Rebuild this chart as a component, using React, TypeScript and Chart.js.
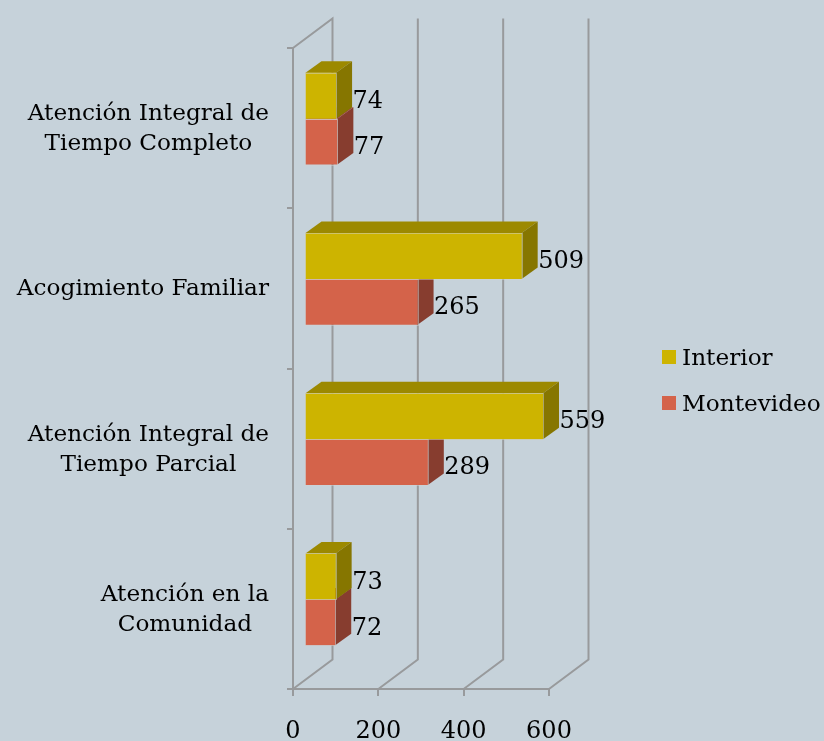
import React, { useEffect, useRef } from "react";
import { Chart, registerables } from "chart.js";

Chart.register(...registerables);

const categories = [
  ["Atención Integral de", "Tiempo Completo"],
  ["Acogimiento Familiar"],
  ["Atención Integral de", "Tiempo Parcial"],
  ["Atención en la", "Comunidad"],
];
const interior = [74, 509, 559, 73];
const montevideo = [77, 265, 289, 72];
const seriesNames = ["Interior", "Montevideo"];
const xTicks = [0, 200, 400, 600];

const BG = "#c6d2da";
const GRID = "#989a9c";
const FONT = "'DejaVu Serif'";
const FRONT = ["#cdb400", "#d4634a"];
const SIDE = ["#867600", "#873d2f"];
const TOP = ["#9c8900", "#a04a38"];

const BAR_DX = 11.5;
const BAR_DY = -9.5;
const DEPTH_X = 16;
const DEPTH_Y = -11.5;
const WALL_DX = 39.5;
const WALL_DY = -29.5;

function poly(ctx: CanvasRenderingContext2D, pts: number[][], fill: string) {
  ctx.fillStyle = fill;
  ctx.beginPath();
  pts.forEach((p, i) => (i ? ctx.lineTo(p[0], p[1]) : ctx.moveTo(p[0], p[1])));
  ctx.closePath();
  ctx.fill();
}

const threeD = {
  id: "threeD",
  beforeDraw(chart: any) {
    // Category labels: block flush right, lines centred within the block.
    const y = chart.scales.y;
    const ctx = chart.ctx;
    const right = 269;
    y.getLabelItems().forEach((item: any) => {
      ctx.save();
      ctx.font = item.font.string;
      const lines = Array.isArray(item.label) ? item.label : [item.label];
      const w = Math.max(...lines.map((l: string) => ctx.measureText(l).width));
      ctx.restore();
      item.options.textAlign = "center";
      item.options.translation = [right - w / 2, item.options.translation[1] + 1];
    });
  },
  beforeDatasetsDraw(chart: any) {
    const { ctx, scales, chartArea } = chart;
    const x = scales.x;
    ctx.save();
    ctx.strokeStyle = GRID;
    ctx.lineWidth = 2;
    xTicks.forEach((v) => {
      const px = x.getPixelForValue(v);
      ctx.beginPath();
      ctx.moveTo(px, chartArea.bottom);
      ctx.lineTo(px + WALL_DX, chartArea.bottom + WALL_DY);
      ctx.lineTo(px + WALL_DX, chartArea.top + WALL_DY);
      if (v === 0) ctx.lineTo(px, chartArea.top);
      ctx.stroke();
    });
    ctx.restore();
  },
  beforeDatasetDraw(chart: any, args: any) {
    const { ctx } = chart;
    const idx = args.index;
    ctx.save();
    args.meta.data.forEach((bar: any) => {
      const l = Math.min(bar.x, bar.base) + BAR_DX;
      const r = Math.max(bar.x, bar.base) + BAR_DX;
      const t = bar.y - bar.height / 2 + BAR_DY;
      const b = bar.y + bar.height / 2 + BAR_DY;
      poly(ctx, [[l, t], [l + DEPTH_X, t + DEPTH_Y], [r + DEPTH_X, t + DEPTH_Y], [r, t]], TOP[idx]);
      poly(ctx, [[r, t], [r + DEPTH_X, t + DEPTH_Y], [r + DEPTH_X, b + DEPTH_Y], [r, b]], SIDE[idx]);
    });
    ctx.restore();
    ctx.save();
    ctx.translate(BAR_DX, BAR_DY);
  },
  afterDatasetDraw(chart: any, args: any) {
    const { ctx } = chart;
    ctx.restore();
    ctx.save();
    ctx.strokeStyle = "rgba(205,210,212,0.5)";
    ctx.lineWidth = 1;
    args.meta.data.forEach((bar: any) => {
      const l = Math.round(Math.min(bar.x, bar.base) + BAR_DX) - 0.5;
      const r = Math.round(Math.max(bar.x, bar.base) + BAR_DX) + 0.5;
      const t = Math.round(bar.y - bar.height / 2 + BAR_DY) + 0.5;
      const b = Math.round(bar.y + bar.height / 2 + BAR_DY) + 0.5;
      ctx.strokeRect(l, t, r - l, b - t);
    });
    ctx.restore();
  },
  afterDatasetsDraw(chart: any) {
    const { ctx } = chart;
    ctx.save();
    ctx.fillStyle = "#000";
    ctx.font = `24px ${FONT}`;
    ctx.textBaseline = "middle";
    ctx.textAlign = "left";
    chart.data.datasets.forEach((ds: any, di: number) => {
      chart.getDatasetMeta(di).data.forEach((bar: any, i: number) => {
        ctx.fillText(String(ds.data[i]), bar.x + BAR_DX + DEPTH_X + 0.5, bar.y + BAR_DY + 6);
      });
    });
    // Legend
    ctx.font = `23.2px ${FONT}`;
    chart.data.datasets.forEach((ds: any, di: number) => {
      const top = 350 + di * 46;
      ctx.fillStyle = ds.backgroundColor;
      ctx.fillRect(662, top, 14, 14);
      ctx.fillStyle = "#000";
      ctx.fillText(ds.label, 682, top + 9);
    });
    ctx.restore();
  },
};

export default function App() {
  const ref = useRef<HTMLCanvasElement>(null);
  useEffect(() => {
    document.body.style.margin = "0";
    document.body.style.background = BG;
    const chart = new Chart(ref.current as HTMLCanvasElement, {
      type: "bar",
      data: {
        labels: categories,
        datasets: [
          { label: seriesNames[0], data: interior, backgroundColor: FRONT[0], clip: false },
          { label: seriesNames[1], data: montevideo, backgroundColor: FRONT[1], clip: false },
        ] as any,
      },
      plugins: [threeD as any],
      options: {
        indexAxis: "y",
        animation: false,
        responsive: false,
        maintainAspectRatio: false,
        layout: { padding: { top: 47, right: 275, left: 0, bottom: 0 } },
        datasets: { bar: { categoryPercentage: 0.573, barPercentage: 1 } },
        plugins: { legend: { display: false }, title: { display: false }, tooltip: { enabled: false } },
        scales: {
          x: {
            type: "linear",
            min: 0,
            max: 600,
            afterFit: (s: any) => { s.height = 52; },
            grid: { drawOnChartArea: false, drawTicks: true, tickLength: 7, color: GRID, lineWidth: 2 },
            border: { display: true, color: GRID, width: 2 },
            ticks: {
              stepSize: 200,
              maxRotation: 0,
              padding: 21,
              color: "#000",
              font: { family: FONT, size: 24 },
            },
          },
          y: {
            type: "category",
            afterFit: (s: any) => { s.width = 293; },
            grid: { drawOnChartArea: false, drawTicks: true, tickLength: 6, color: GRID, lineWidth: 2 },
            border: { display: true, color: GRID, width: 2 },
            ticks: {
              autoSkip: false,
              padding: 18,
              color: "#000",
              font: { family: FONT, size: 23.2, lineHeight: "30px" },
            },
          },
        },
      } as any,
    });
    return () => chart.destroy();
  }, []);
  return (
    <div style={{ position: "absolute", left: 0, top: 0, width: 824, height: 741, background: BG, overflow: "hidden" }}>
      <canvas ref={ref} width={824} height={741} style={{ display: "block" }} />
    </div>
  );
}
